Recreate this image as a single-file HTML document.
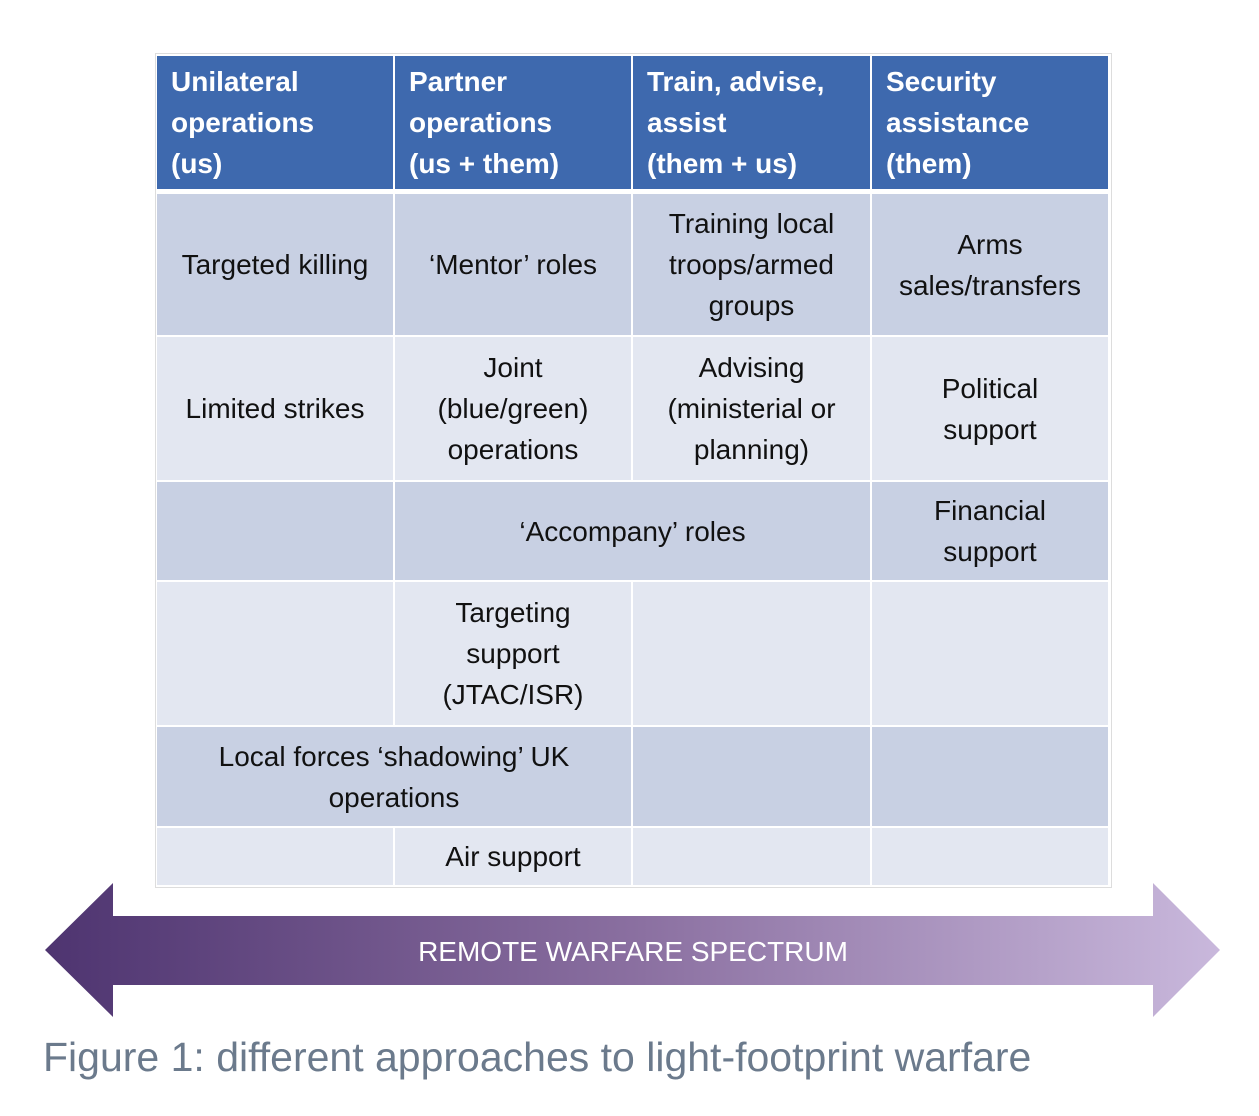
<!DOCTYPE html>
<html><head><meta charset="utf-8"><style>
body{margin:0;width:1259px;height:1116px;background:#fff;position:relative;overflow:hidden;font-family:"Liberation Sans",sans-serif}
.c{position:absolute;display:flex;align-items:center;justify-content:center;text-align:center;font-size:28px;line-height:41px;color:#111;box-sizing:border-box;padding:0 2px}
.h{background:#3e69ae;color:#fff;font-weight:bold;justify-content:flex-start;text-align:left;padding-left:14px;font-size:28px}
.d{background:#c8d0e3}.l{background:#e3e7f1}
</style></head><body>
<div style="position:absolute;left:155px;top:53px;width:955px;height:833px;background:#fff;border:1px solid #ddd"></div>
<div class="c h" style="left:157px;top:56px;width:236px;height:133px">Unilateral<br>operations<br>(us)</div>
<div class="c h" style="left:395px;top:56px;width:236px;height:133px">Partner<br>operations<br>(us + them)</div>
<div class="c h" style="left:633px;top:56px;width:237px;height:133px">Train, advise,<br>assist<br>(them + us)</div>
<div class="c h" style="left:872px;top:56px;width:236px;height:133px">Security<br>assistance<br>(them)</div>
<div class="c d" style="left:157px;top:194px;width:236px;height:141px">Targeted killing</div>
<div class="c d" style="left:395px;top:194px;width:236px;height:141px">‘Mentor’ roles</div>
<div class="c d" style="left:633px;top:194px;width:237px;height:141px">Training local<br>troops/armed<br>groups</div>
<div class="c d" style="left:872px;top:194px;width:236px;height:141px">Arms<br>sales/transfers</div>
<div class="c l" style="left:157px;top:337px;width:236px;height:143px">Limited strikes</div>
<div class="c l" style="left:395px;top:337px;width:236px;height:143px">Joint<br>(blue/green)<br>operations</div>
<div class="c l" style="left:633px;top:337px;width:237px;height:143px">Advising<br>(ministerial or<br>planning)</div>
<div class="c l" style="left:872px;top:337px;width:236px;height:143px">Political<br>support</div>
<div class="c d" style="left:157px;top:482px;width:236px;height:98px"></div>
<div class="c d" style="left:395px;top:482px;width:475px;height:98px">‘Accompany’ roles</div>
<div class="c d" style="left:872px;top:482px;width:236px;height:98px">Financial<br>support</div>
<div class="c l" style="left:157px;top:582px;width:236px;height:143px"></div>
<div class="c l" style="left:395px;top:582px;width:236px;height:143px">Targeting<br>support<br>(JTAC/ISR)</div>
<div class="c l" style="left:633px;top:582px;width:237px;height:143px"></div>
<div class="c l" style="left:872px;top:582px;width:236px;height:143px"></div>
<div class="c d" style="left:157px;top:727px;width:474px;height:99px">Local forces ‘shadowing’ UK<br>operations</div>
<div class="c d" style="left:633px;top:727px;width:237px;height:99px"></div>
<div class="c d" style="left:872px;top:727px;width:236px;height:99px"></div>
<div class="c l" style="left:157px;top:828px;width:236px;height:57px"></div>
<div class="c l" style="left:395px;top:828px;width:236px;height:57px">Air support</div>
<div class="c l" style="left:633px;top:828px;width:237px;height:57px"></div>
<div class="c l" style="left:872px;top:828px;width:236px;height:57px"></div>
<svg style="position:absolute;left:0;top:0" width="1259" height="1116">
<defs><linearGradient id="g" x1="45" y1="0" x2="1220" y2="0" gradientUnits="userSpaceOnUse">
<stop offset="0" stop-color="#4e3470"/><stop offset="0.5" stop-color="#8a6fa0"/><stop offset="1" stop-color="#c9b8dc"/></linearGradient></defs>
<polygon fill="url(#g)" points="45,950 113,883 113,916 1153,916 1153,883 1220,950 1153,1017 1153,985 113,985 113,1017"/>
<text x="633" y="961" text-anchor="middle" font-family="Liberation Sans, sans-serif" font-size="28" fill="#fff">REMOTE WARFARE SPECTRUM</text>
</svg>
<div style="position:absolute;left:43px;top:1034px;font-size:41px;color:#6b7a8c;white-space:nowrap">Figure 1: different approaches to light-footprint warfare</div>
</body></html>
